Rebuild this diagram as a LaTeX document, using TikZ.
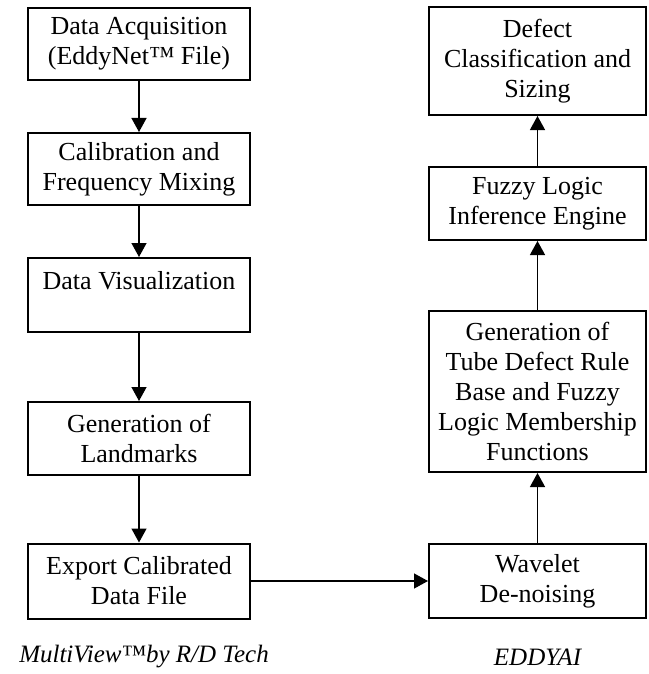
\documentclass[tikz,border=0pt]{standalone}
\usepackage{fontspec}
\setmainfont{Liberation Serif}
\usetikzlibrary{arrows.meta}
\begin{document}
\begin{tikzpicture}[x=1pt,y=-1pt,
  box/.style={draw,line width=2pt,rectangle,inner sep=0pt,align=center,
    font=\fontsize{26}{30}\selectfont},
  lbox/.style={box,minimum width=222pt},
  rbox/.style={box,minimum width=217pt},
  flow/.style={line width=1.3pt,-{Triangle[length=14pt,width=15pt]}},
  captext/.style={font=\fontsize{25}{30}\selectfont\itshape}]
\useasboundingbox (0,0) rectangle (648,674);
% left column
\node[lbox,minimum height=72pt] (L1) at (139,44) {Data Acquisition\\(EddyNet™ File)};
\node[lbox,minimum height=72pt] (L2) at (139,169) {Calibration and\\Frequency Mixing};
\node[lbox,minimum height=74pt] (L3) at (139,295) {Data Visualization\\~};
\node[lbox,minimum height=73pt] (L4) at (139,438.5) {Generation of\\Landmarks};
\node[lbox,minimum height=75pt] (L5) at (139,581) {Export Calibrated\\Data File};
% right column
\node[rbox,minimum height=108pt] (R1) at (537.5,61) {Defect\\Classification and\\Sizing};
\node[rbox,minimum height=73pt] (R2) at (537.5,203.5) {Fuzzy Logic\\Inference Engine};
\node[rbox,minimum height=161pt] (R3) at (537.5,391.5) {Generation of\\Tube Defect Rule\\Base and Fuzzy\\Logic Membership\\Functions};
\node[rbox,minimum height=74pt] (R4) at (537.5,581) {Wavelet\\De-noising};
% captions
\node[captext] (C1) at (144,657) {MultiView™by R/D Tech};
\node[captext] (C2) at (537.5,657) {EDDYAI};
% connectors
\draw[flow] (L1) -- (L2);
\draw[flow] (L2) -- (L3);
\draw[flow] (L3) -- (L4);
\draw[flow] (L4) -- (L5);
\draw[flow] (L5) -- (R4);
\draw[flow] (R4) -- (R3);
\draw[flow] (R3) -- (R2);
\draw[flow] (R2) -- (R1);
\end{tikzpicture}
\end{document}
